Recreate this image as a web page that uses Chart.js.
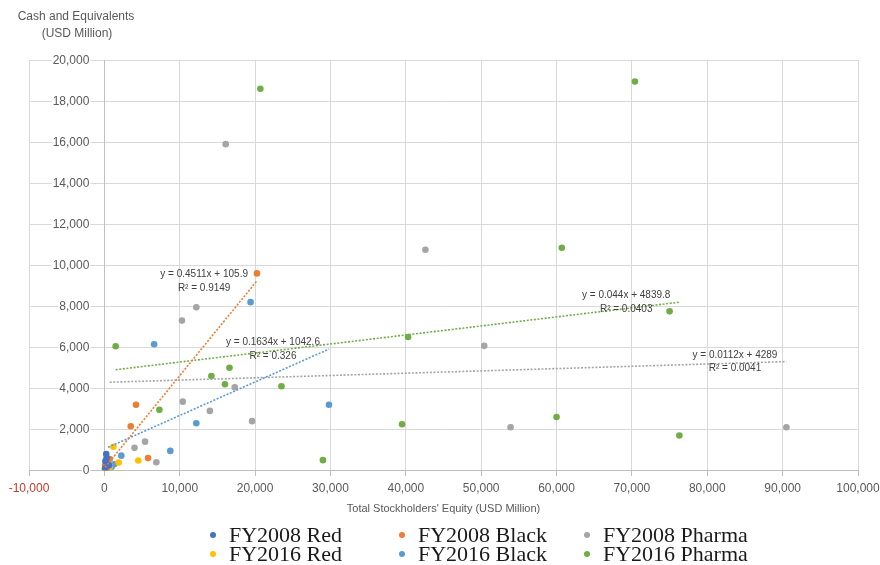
<!DOCTYPE html>
<html>
<head>
<meta charset="utf-8">
<title>Cash and Equivalents vs Total Stockholders' Equity</title>
<script src="https://cdn.jsdelivr.net/npm/chart.js@4.4.1/dist/chart.umd.min.js"></script>
<style>
  html, body { margin: 0; padding: 0; background: #fff; }
  #wrap { position: relative; width: 880px; height: 565px; }
</style>
</head>
<body>
<div id="wrap"><canvas id="scatterChart"></canvas></div>
<script>
// x = total stockholders' equity, y = cash and equivalents (USD million)
const fy2008RedX = [250, 300, 150, 600, 100];
const fy2008RedY = [800, 600, 450, 250, 100];

const fy2008BlackX = [20250, 4200, 3500, 5800, 700, 100, 300];
const fy2008BlackY = [9600, 3200, 2150, 600, 550, 250, 100];

const fy2008PharmaX = [16100, 42600, 12200, 10300, 50400, 17300, 10400, 14000, 19600, 53900, 90500, 5400, 4000, 6900, 700];
const fy2008PharmaY = [15900, 10750, 7950, 7300, 6070, 4050, 3350, 2900, 2400, 2100, 2100, 1400, 1100, 400, 250];

const fy2016RedX = [1200, 4500, 1900, 300, 700, 50];
const fy2016RedY = [1150, 480, 380, 200, 150, 30];

const fy2016BlackX = [19400, 6600, 29800, 12200, 8750, 2250, 950, 1300, 500];
const fy2016BlackY = [8200, 6150, 3200, 2300, 950, 720, 160, 300, 100];

const fy2016PharmaX = [20700, 70400, 60700, 75000, 40300, 1500, 16600, 14200, 16000, 23500, 7300, 39500, 60000, 76300, 29000];
const fy2016PharmaY = [18600, 18950, 10850, 7750, 6500, 6050, 5000, 4600, 4200, 4100, 2950, 2250, 2600, 1700, 500];

const seriesNames = ['FY2008 Red', 'FY2008 Black', 'FY2008 Pharma', 'FY2016 Red', 'FY2016 Black', 'FY2016 Pharma'];
const seriesX = [fy2008RedX, fy2008BlackX, fy2008PharmaX, fy2016RedX, fy2016BlackX, fy2016PharmaX];
const seriesY = [fy2008RedY, fy2008BlackY, fy2008PharmaY, fy2016RedY, fy2016BlackY, fy2016PharmaY];
const seriesColors = ['#4472C4', '#ED7D31', '#A5A5A5', '#FFC000', '#5B9BD5', '#70AD47'];

// linear trendlines: which series, slope, intercept, R²
const trendSeries = [1, 4, 5, 2];
const trendSlopes = [0.4511, 0.1634, 0.044, 0.0112];
const trendIntercepts = [105.9, 1042.6, 4839.8, 4289];
const trendR2 = ['0.9149', '0.326', '0.0403', '0.0041'];

// axis ranges
const xMin = -10000, xMax = 100000, xStep = 10000;
const yMin = 0, yMax = 20000, yStep = 2000;

const axisGrey = '#595959';
const fmt = v => v.toLocaleString('en-US');

const datasets = seriesNames.map((name, i) => ({
    type: 'scatter',
    label: name,
    data: seriesX[i].map((x, j) => ({ x: x, y: seriesY[i][j] })),
    backgroundColor: seriesColors[i],
    borderColor: seriesColors[i],
    borderWidth: 0,
    pointRadius: 3.3,
    order: 2
}));

trendSeries.forEach((s, k) => {
    const lo = Math.min(...seriesX[s]);
    const hi = Math.max(...seriesX[s]);
    const f = x => trendSlopes[k] * x + trendIntercepts[k];
    datasets.push({
        type: 'line',
        label: seriesNames[s] + ' trend',
        trend: k,
        data: [{ x: lo, y: f(lo) }, { x: hi, y: f(hi) }],
        borderColor: seriesColors[s],
        borderWidth: 1.6,
        borderDash: [2, 1.6],
        pointRadius: 0,
        fill: false,
        order: 1
    });
});

// y tick labels sit left of the vertical axis (which crosses at x = 0),
// plus equation labels, the y-axis title and the legend
const extras = {
    id: 'extras',
    beforeDatasetsDraw(chart) {
        const { ctx, scales: { x, y } } = chart;
        const right = x.getPixelForValue(0) - 15;
        ctx.save();
        ctx.font = '12px "Liberation Sans"';
        ctx.textAlign = 'right';
        ctx.textBaseline = 'middle';
        y.ticks.forEach(t => {
            const py = y.getPixelForValue(t.value);
            const label = fmt(t.value);
            const w = ctx.measureText(label).width;
            ctx.fillStyle = '#ffffff';
            ctx.fillRect(right - w - 1, py - 6, w + 2, 12);
            ctx.fillStyle = axisGrey;
            ctx.fillText(label, right, py + 0.5);
        });
        ctx.restore();
    },
    afterDatasetsDraw(chart) {
        const { ctx, scales: { x, y } } = chart;
        ctx.save();
        ctx.font = '10px "Liberation Sans"';
        ctx.fillStyle = '#404040';
        ctx.textBaseline = 'middle';
        ctx.textAlign = 'center';
        chart.data.datasets.forEach(ds => {
            if (ds.trend === undefined) return;
            const k = ds.trend;
            const end = ds.data[1];
            const px = x.getPixelForValue(end.x);
            const py = y.getPixelForValue(end.y);
            const l1 = 'y = ' + trendSlopes[k] + 'x + ' + trendIntercepts[k];
            const l2 = 'R\u00B2 = ' + trendR2[k];
            const w = Math.max(ctx.measureText(l1).width, ctx.measureText(l2).width);
            const cx = px - 9 - w / 2;
            ctx.fillText(l1, cx, py - 6.5);
            ctx.fillText(l2, cx, py + 7);
        });
        ctx.restore();
    },
    afterDraw(chart) {
        const { ctx } = chart;
        ctx.save();
        ctx.fillStyle = axisGrey;
        ctx.font = '12px "Liberation Sans"';
        ctx.textAlign = 'center';
        ctx.textBaseline = 'middle';
        ctx.fillText('Cash and Equivalents', 76, 17);
        ctx.fillText('(USD Million)', 77, 34);

        // legend: three columns, two rows
        const colX = [213, 402, 587];
        const rowY = [535, 554];
        ctx.font = '22px "Liberation Serif"';
        ctx.textAlign = 'left';
        seriesNames.forEach((name, i) => {
            const cx = colX[i % 3];
            const cy = rowY[Math.floor(i / 3)];
            ctx.fillStyle = seriesColors[i];
            ctx.beginPath();
            ctx.arc(cx, cy, 3, 0, Math.PI * 2);
            ctx.fill();
            ctx.fillStyle = '#1a1a1a';
            ctx.fillText(name, cx + 16, cy + 1);
        });
        ctx.restore();
    }
};

new Chart(document.getElementById('scatterChart'), {
    type: 'scatter',
    data: { datasets: datasets },
    options: {
        responsive: true,
        maintainAspectRatio: false,
        animation: false,
        layout: { padding: { left: 29, right: 22, top: 60, bottom: 49 } },
        plugins: {
            legend: { display: false },
            tooltip: { enabled: false }
        },
        scales: {
            x: {
                type: 'linear',
                position: 'bottom',
                min: xMin,
                max: xMax,
                // long tick slot keeps the labels low; the dash leaves only a short visible mark
                grid: { color: '#D9D9D9', tickLength: 11, tickColor: '#BFBFBF', tickBorderDash: [5, 20] },
                border: { color: '#BFBFBF' },
                ticks: {
                    stepSize: xStep,
                    autoSkip: false,
                    maxRotation: 0,
                    padding: 0,
                    font: { family: 'Liberation Sans', size: 12 },
                    color: c => (c.tick && c.tick.value < 0 ? '#C0392B' : axisGrey),
                    callback: v => fmt(v)
                },
                title: {
                    display: true,
                    text: "Total Stockholders' Equity (USD Million)",
                    color: axisGrey,
                    font: { family: 'Liberation Sans', size: 11 },
                    padding: { top: 7, bottom: 0 }
                }
            },
            y: {
                type: 'linear',
                position: { x: 0 },
                min: yMin,
                max: yMax,
                grid: { color: '#D9D9D9', drawTicks: false },
                border: { color: '#BFBFBF' },
                ticks: {
                    stepSize: yStep,
                    display: false
                }
            }
        }
    },
    plugins: [extras]
});
</script>
</body>
</html>
